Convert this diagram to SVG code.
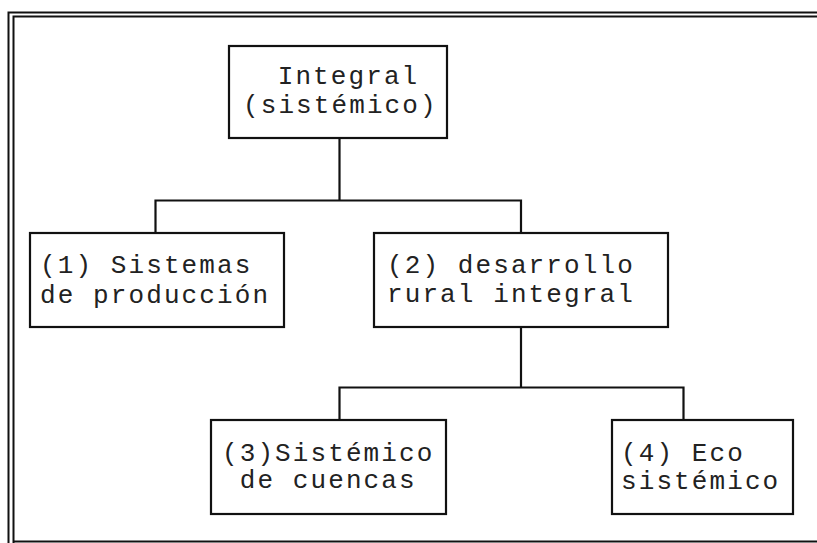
<svg xmlns="http://www.w3.org/2000/svg" width="817" height="543" viewBox="0 0 817 543">
<style>
.box{fill:#fff;stroke:#111;stroke-width:2.2}
.ln{fill:none;stroke:#111;stroke-width:2.2}
.fr{fill:none;stroke:#111;stroke-width:2}
text{font-family:"Liberation Mono","Courier New",monospace;font-size:26px;letter-spacing:2.1px;fill:#222}
</style>
<rect width="817" height="543" fill="#fff"/>
<g id="frame">
<path class="fr" d="M8.5,543 V12.5 H817"/>
<path class="fr" d="M13.5,543 V16.5 H817"/>
<path class="fr" d="M13.5,541.5 H817"/>
</g>
<g id="connectors">
<path class="ln" d="M339.5,138 V200.5"/>
<path class="ln" d="M155.5,233 V200.5 H521 V233"/>
<path class="ln" d="M521,327 V387.5"/>
<path class="ln" d="M339.5,420 V387.5 H683.5 V420"/>
</g>
<g id="n0">
<rect class="box" x="229" y="46" width="218" height="92"/>
<text x="260" y="84" xml:space="preserve"> Integral</text>
<text x="243" y="112.5">(sistémico)</text>
</g>
<g id="n1">
<rect class="box" x="30" y="233" width="254" height="94"/>
<text x="40" y="273">(1) Sistemas</text>
<text x="40" y="303">de producción</text>
</g>
<g id="n2">
<rect class="box" x="374" y="233" width="294" height="94"/>
<text x="387" y="273">(2) desarrollo</text>
<text x="387" y="302">rural integral</text>
</g>
<g id="n3">
<rect class="box" x="211" y="420" width="235" height="94"/>
<text x="222" y="461">(3)Sistémico</text>
<text x="222" y="488" xml:space="preserve"> de cuencas</text>
</g>
<g id="n4">
<rect class="box" x="612" y="420" width="181" height="94"/>
<text x="621" y="461">(4) Eco</text>
<text x="621" y="489">sistémico</text>
</g>
</svg>
